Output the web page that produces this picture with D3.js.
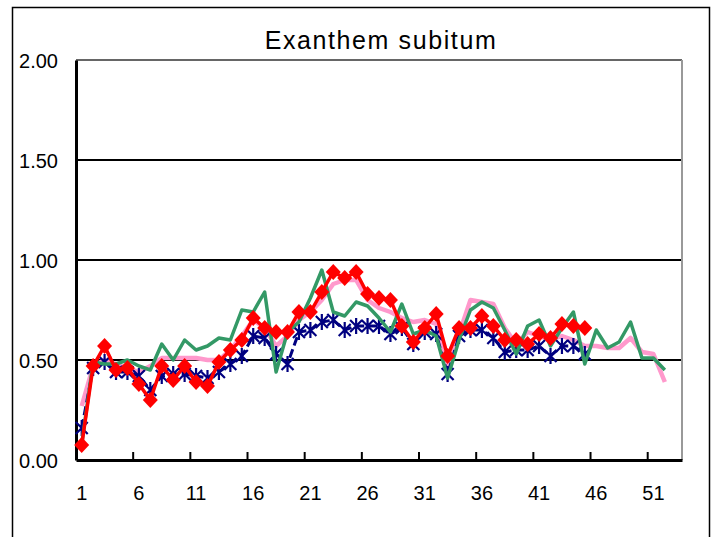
<!DOCTYPE html>
<html><head><meta charset="utf-8">
<script src="https://cdn.jsdelivr.net/npm/d3@7"></script>
<style>body{margin:0;background:#fff;} svg{display:block;}</style>
</head><body>
<svg id="chart" width="717" height="537"></svg>
<script>
const title = "Exanthem subitum";
const weeks = d3.range(1, 54);
const xTickLabels = [1, 6, 11, 16, 21, 26, 31, 36, 41, 46, 51];
const yTicks = [0, 0.5, 1.0, 1.5, 2.0];

const pinkValues = [0.27,0.47,0.50,0.48,0.46,0.44,0.47,0.51,0.51,0.51,0.51,0.50,0.50,0.55,0.62,0.70,0.66,0.57,0.62,0.70,0.74,0.80,0.88,0.90,0.90,0.80,0.76,0.74,0.71,0.69,0.70,0.68,0.46,0.63,0.80,0.79,0.78,0.66,0.58,0.64,0.62,0.60,0.62,0.60,0.57,0.57,0.56,0.56,0.61,0.54,0.53,0.39];
const greenValues = [0.08,0.49,0.48,0.48,0.50,0.47,0.45,0.58,0.50,0.60,0.55,0.57,0.61,0.60,0.75,0.74,0.84,0.44,0.64,0.69,0.81,0.95,0.74,0.72,0.79,0.77,0.71,0.64,0.78,0.63,0.65,0.62,0.41,0.60,0.75,0.79,0.76,0.65,0.53,0.67,0.70,0.57,0.66,0.74,0.48,0.65,0.56,0.59,0.69,0.51,0.51,0.45];
const navyValues = [0.16,0.46,0.49,0.44,0.44,0.42,0.35,0.42,0.43,0.43,0.42,0.41,0.44,0.48,0.52,0.62,0.61,0.53,0.48,0.64,0.65,0.69,0.70,0.65,0.67,0.67,0.67,0.63,0.66,0.58,0.64,0.63,0.43,0.62,0.65,0.65,0.61,0.54,0.55,0.55,0.57,0.52,0.57,0.57,0.53];
const redValues = [0.075,0.47,0.57,0.45,0.46,0.38,0.30,0.47,0.40,0.47,0.39,0.37,0.49,0.55,0.60,0.71,0.66,0.64,0.64,0.74,0.74,0.84,0.94,0.91,0.94,0.83,0.81,0.80,0.67,0.59,0.66,0.73,0.52,0.66,0.66,0.72,0.67,0.60,0.60,0.58,0.63,0.61,0.68,0.67,0.66];

const svg = d3.select("#chart");
const L = 76, R = 682, T = 60, B = 460;
const x = d3.scaleBand().domain(weeks).range([L, R]).padding(0);
const y = d3.scaleLinear().domain([0, 2]).range([B, T]);
const cx = w => x(w) + x.bandwidth() / 2;
const labelFont = "'Liberation Sans',Arial,sans-serif";

// outer frame
svg.append("rect").attr("x", 12.5).attr("y", 7.5).attr("width", 697).attr("height", 545)
  .attr("fill", "#fff").attr("stroke", "#000").attr("stroke-width", 1.5);

// grid lines
svg.append("g").selectAll("line").data(yTicks.filter(d => d > 0 && d < 2)).join("line")
  .attr("x1", L).attr("x2", R).attr("y1", d => y(d)).attr("y2", d => y(d))
  .attr("stroke", "#000").attr("stroke-width", 2);
// plot area border (top/right gray)
svg.append("line").attr("x1", L).attr("x2", R).attr("y1", y(2)).attr("y2", y(2))
  .attr("stroke", "#666").attr("stroke-width", 2);
svg.append("line").attr("x1", R).attr("x2", R).attr("y1", T).attr("y2", B)
  .attr("stroke", "#999").attr("stroke-width", 2);

// y axis
const yAxis = d3.axisLeft(y).tickValues(yTicks).tickFormat(d3.format(".2f")).tickSize(0).tickPadding(18);
const gy = svg.append("g").attr("transform", `translate(${L},0)`).call(yAxis);
gy.select(".domain").attr("stroke", "#000").attr("stroke-width", 3);
gy.selectAll("text").attr("font-family", labelFont).attr("font-size", 20).attr("fill", "#000").attr("dy", "0.35em");

// x axis
const xAxis = d3.axisBottom(x).tickValues(xTickLabels).tickSize(0).tickPadding(26);
const gx = svg.append("g").attr("transform", `translate(0,${B})`).call(xAxis);
gx.select(".domain").attr("stroke", "#000").attr("stroke-width", 3);
gx.selectAll("text").attr("font-family", labelFont).attr("font-size", 20).attr("fill", "#000");
// inside tick marks at category boundaries every 5
svg.append("g").selectAll("line").data(weeks.filter(w => w % 5 === 0 && w < 53)).join("line")
  .attr("x1", w => x(w) + x.bandwidth()).attr("x2", w => x(w) + x.bandwidth())
  .attr("y1", B).attr("y2", B - 8).attr("stroke", "#000").attr("stroke-width", 2);

const line = d3.line().defined(d => d != null).x((d, i) => cx(weeks[i])).y(d => y(d));

// pink
svg.append("path").datum(pinkValues).attr("d", line).attr("fill", "none")
  .attr("stroke", "#FF99CC").attr("stroke-width", 4.5).attr("stroke-linejoin", "round");
// navy dashed + asterisks
svg.append("path").datum(navyValues).attr("d", line).attr("fill", "none")
  .attr("stroke", "#000080").attr("stroke-width", 3).attr("stroke-dasharray", "9,4");
svg.append("g").selectAll("path").data(navyValues).join("path")
  .attr("transform", (d, i) => `translate(${cx(weeks[i])},${y(d)})`)
  .attr("d", "M-6,-6L6,6M-6,6L6,-6M0,-8L0,8")
  .attr("stroke", "#000080").attr("stroke-width", 2.2).attr("fill", "none");
// green
svg.append("path").datum(greenValues).attr("d", line).attr("fill", "none")
  .attr("stroke", "#339966").attr("stroke-width", 3.5).attr("stroke-linejoin", "round");
// red + diamonds
svg.append("path").datum(redValues).attr("d", line).attr("fill", "none")
  .attr("stroke", "#FF0000").attr("stroke-width", 3.5);
svg.append("g").selectAll("path").data(redValues).join("path")
  .attr("transform", (d, i) => `translate(${cx(weeks[i])},${y(d)})`)
  .attr("d", "M0,-8L7.5,0L0,8L-7.5,0Z").attr("fill", "#FF0000");

// title
svg.append("text").attr("x", 381).attr("y", 49).attr("text-anchor", "middle")
  .attr("font-family", "'Liberation Sans',Arial,sans-serif").attr("font-size", 25)
  .attr("letter-spacing", 1.6).attr("fill", "#000").text(title);
</script>
</body></html>
